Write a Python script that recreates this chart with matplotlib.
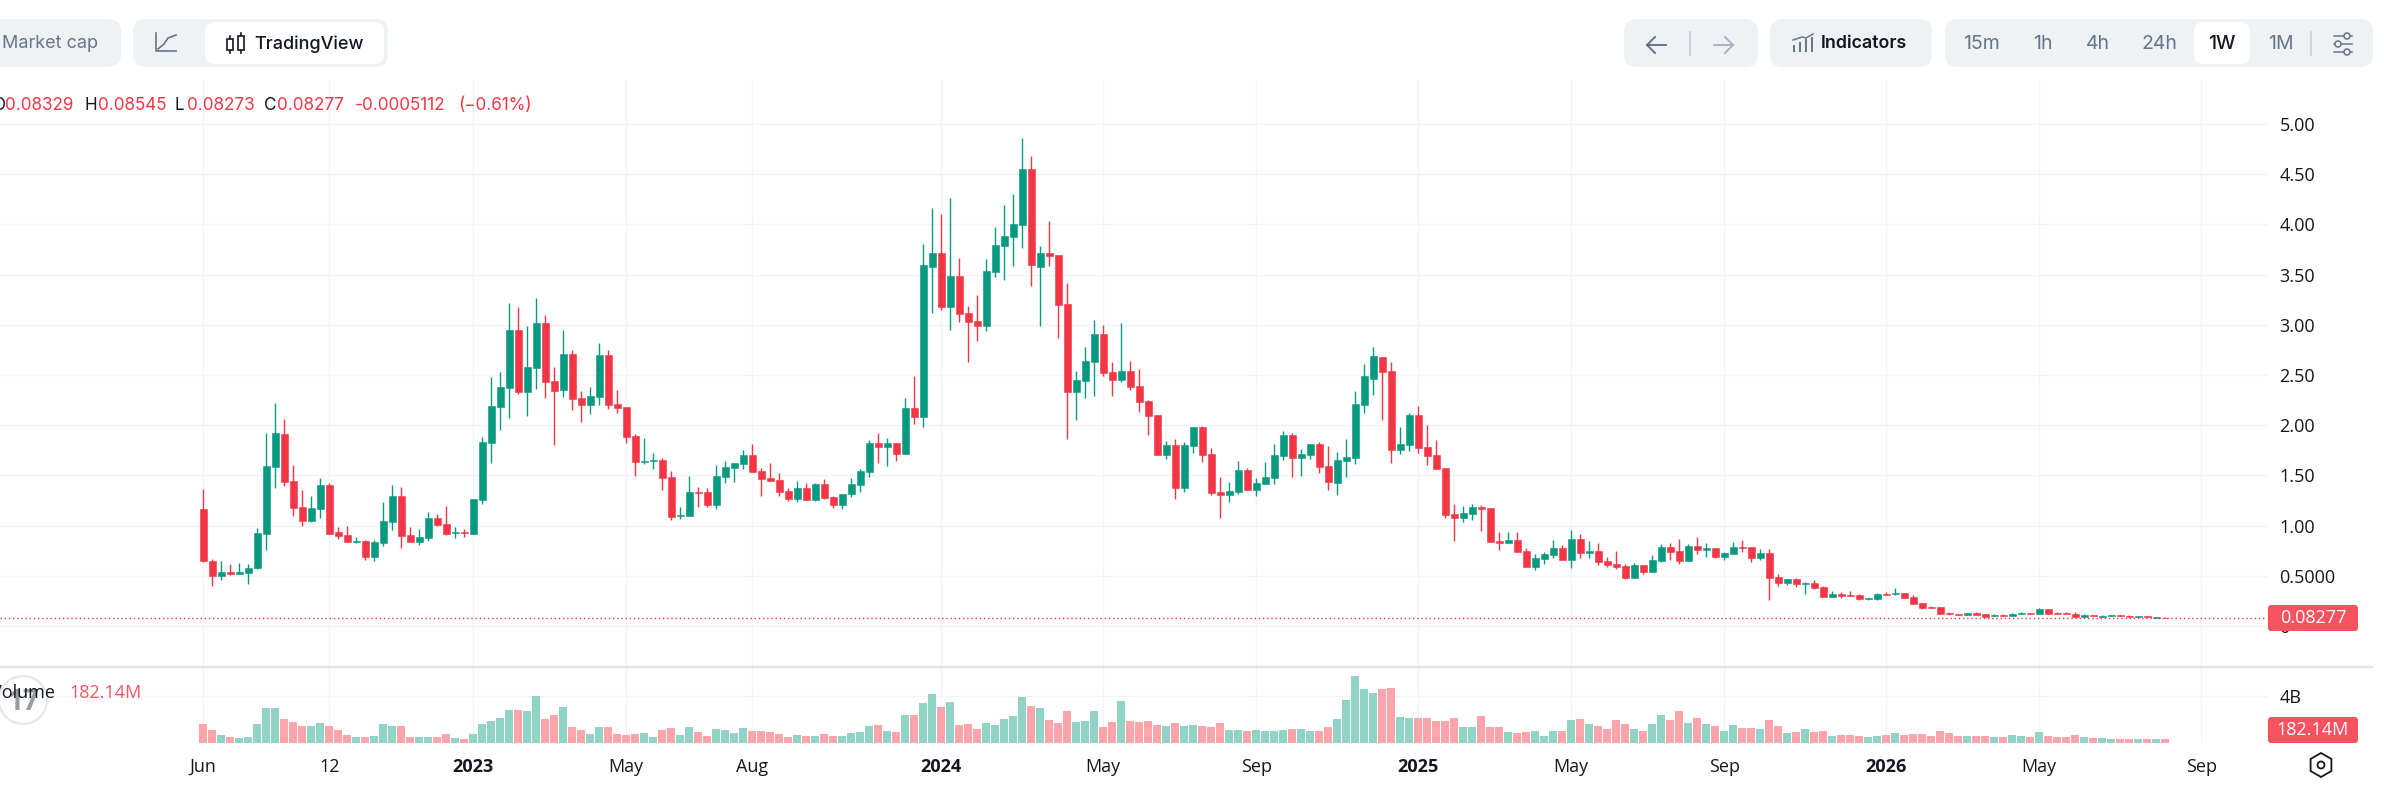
import matplotlib
matplotlib.use('Agg')
import matplotlib.pyplot as plt
from matplotlib.patches import FancyBboxPatch, Circle, RegularPolygon

# weekly OHLC
opens = [
    1.165, .647, .501, .538, .518, .528, .578, .916, 1.584, 1.912,
    1.444, 1.185, 1.046, 1.165, 1.404, .936, .906, .837, .847, .687,
    .827, 1.036, 1.295, .906, .837, .876, 1.076, 1.016, .926, .936,
    .916, 1.255, 1.823, 2.181, 2.370, 2.948, 2.331, 2.570, 3.018, 2.440,
    2.351, 2.709, 2.271, 2.201, 2.281, 2.699, 2.211, 2.181, 1.892, 1.633,
    1.643, 1.653, 1.484, 1.096, 1.096, 1.335, 1.335, 1.205, 1.484, 1.574,
    1.614, 1.703, 1.544, 1.474, 1.454, 1.345, 1.265, 1.374, 1.255, 1.414,
    1.285, 1.205, 1.315, 1.404, 1.534, 1.823, 1.783, 1.823, 1.713, 2.171,
    2.082, 3.576, 3.715, 3.177, 3.486, 3.117, 3.038, 2.988, 3.526, 3.785,
    3.874, 3.994, 4.552, 3.576, 3.715, 3.695, 3.207, 2.331, 2.440, 2.629,
    2.908, 2.530, 2.450, 2.540, 2.390, 2.241, 2.102, 1.703, 1.803, 1.374,
    1.793, 1.982, 1.713, 1.335, 1.305, 1.335, 1.554, 1.355, 1.414, 1.474,
    1.693, 1.902, 1.673, 1.703, 1.813, 1.594, 1.424, 1.643, 1.673, 2.201,
    2.460, 2.679, 2.540, 1.753, 1.803, 2.102, 1.783, 1.703, 1.574, 1.116,
    1.076, 1.116, 1.185, 1.175, .847, .827, .857, .747, .588, .667,
    .707, .777, .657, .867, .727, .747, .647, .618, .598, .478,
    .608, .538, .647, .787, .747, .647, .797, .757, .777, .687,
    .717, .787, .787, .677, .727, .488, .428, .468, .418, .428,
    .388, .289, .319, .309, .309, .269, .269, .319, .319, .329,
    .289, .229, .189, .189, .129, .120, .110, .129, .120, .100,
    .110, .100, .120, .129, .120, .169, .129, .129, .120, .090,
    .110, .090, .100, .110, .100, .090, .100, .085, .08329,
]
highs = [
    1.361, .664, .647, .618, .627, .614, .976, 1.922, 2.221, 2.062,
    1.604, 1.355, 1.295, 1.474, 1.424, .986, .996, .886, .857, .857,
    1.235, 1.404, 1.384, .986, .966, 1.135, 1.116, 1.195, .986, .966,
    1.265, 1.882, 2.480, 2.530, 3.217, 3.177, 2.988, 3.267, 3.098, 2.580,
    2.948, 2.749, 2.341, 2.380, 2.819, 2.749, 2.351, 2.181, 1.912, 1.872,
    1.723, 1.673, 1.544, 1.185, 1.494, 1.384, 1.374, 1.604, 1.643, 1.623,
    1.753, 1.813, 1.574, 1.623, 1.524, 1.374, 1.444, 1.424, 1.424, 1.464,
    1.295, 1.315, 1.474, 1.564, 1.853, 1.922, 1.872, 1.823, 2.271, 2.490,
    3.805, 4.163, 4.104, 4.263, 3.665, 3.187, 3.297, 3.655, 3.974, 4.193,
    4.303, 4.860, 4.681, 3.785, 4.034, 3.695, 3.416, 2.540, 2.779, 3.048,
    2.998, 2.629, 3.018, 2.639, 2.560, 2.251, 2.102, 1.843, 1.863, 1.833,
    1.982, 1.992, 1.773, 1.484, 1.434, 1.643, 1.574, 1.474, 1.633, 1.813,
    1.942, 1.922, 1.763, 1.813, 1.833, 1.793, 1.733, 1.863, 2.341, 2.610,
    2.779, 2.679, 2.629, 1.982, 2.121, 2.191, 2.002, 1.853, 1.574, 1.215,
    1.195, 1.215, 1.205, 1.175, .936, .936, .936, .777, .717, .737,
    .857, .807, .956, .916, .847, .827, .687, .747, .618, .627,
    .608, .707, .817, .827, .867, .817, .886, .827, .777, .737,
    .837, .857, .787, .767, .767, .518, .468, .478, .438, .458,
    .398, .349, .339, .349, .319, .279, .329, .339, .378, .329,
    .309, .229, .199, .189, .139, .120, .129, .139, .120, .116,
    .116, .129, .139, .129, .179, .169, .139, .139, .139, .120,
    .110, .110, .110, .110, .110, .100, .100, .092, .08545,
]
lows = [
    .637, .402, .461, .508, .518, .418, .568, .757, 1.374, 1.394,
    1.096, .996, 1.036, 1.076, .916, .867, .837, .827, .657, .647,
    .797, .956, .777, .837, .807, .847, .996, .906, .876, .886,
    .916, 1.215, 1.623, 1.952, 2.072, 2.311, 2.092, 2.361, 2.271, 1.803,
    2.281, 2.151, 2.032, 2.112, 2.201, 2.161, 2.121, 1.823, 1.494, 1.614,
    1.564, 1.355, 1.056, 1.066, 1.096, 1.185, 1.185, 1.165, 1.424, 1.434,
    1.564, 1.534, 1.295, 1.444, 1.295, 1.245, 1.235, 1.255, 1.245, 1.265,
    1.175, 1.165, 1.285, 1.335, 1.484, 1.623, 1.594, 1.643, 1.713, 2.012,
    1.982, 3.117, 3.147, 2.948, 3.028, 2.629, 2.839, 2.938, 3.476, 3.446,
    3.586, 3.765, 3.386, 2.988, 3.586, 2.868, 1.863, 2.052, 2.271, 2.291,
    2.490, 2.291, 2.430, 2.351, 2.131, 1.902, 1.703, 1.663, 1.265, 1.335,
    1.723, 1.633, 1.305, 1.076, 1.235, 1.315, 1.355, 1.295, 1.414, 1.414,
    1.653, 1.484, 1.494, 1.663, 1.524, 1.355, 1.305, 1.484, 1.614, 2.121,
    2.301, 2.052, 1.623, 1.713, 1.743, 1.723, 1.604, 1.564, 1.076, .847,
    1.036, 1.056, .946, .837, .757, .827, .737, .588, .558, .618,
    .677, .657, .578, .677, .677, .608, .588, .568, .468, .478,
    .518, .538, .637, .657, .618, .647, .717, .687, .677, .657,
    .717, .737, .637, .657, .259, .398, .408, .388, .319, .369,
    .289, .289, .279, .299, .259, .259, .259, .309, .309, .279,
    .219, .169, .179, .120, .110, .110, .110, .110, .090, .100,
    .100, .100, .120, .120, .120, .120, .120, .120, .090, .090,
    .100, .090, .100, .100, .090, .090, .087, .084, .08273,
]
closes = [
    .647, .501, .538, .518, .538, .574, .926, 1.594, 1.922, 1.434,
    1.175, 1.046, 1.175, 1.404, .916, .896, .837, .847, .687, .837,
    1.046, 1.295, .896, .837, .886, 1.076, 1.006, .916, .936, .926,
    1.265, 1.833, 2.191, 2.380, 2.948, 2.331, 2.580, 3.018, 2.430, 2.341,
    2.709, 2.261, 2.201, 2.291, 2.699, 2.201, 2.171, 1.882, 1.633, 1.643,
    1.653, 1.474, 1.086, 1.106, 1.335, 1.325, 1.205, 1.494, 1.584, 1.623,
    1.703, 1.534, 1.464, 1.444, 1.335, 1.265, 1.374, 1.255, 1.414, 1.275,
    1.205, 1.315, 1.414, 1.544, 1.823, 1.783, 1.823, 1.713, 2.171, 2.082,
    3.596, 3.715, 3.177, 3.486, 3.108, 3.028, 2.988, 3.536, 3.795, 3.884,
    4.004, 4.552, 3.596, 3.715, 3.685, 3.197, 2.331, 2.450, 2.639, 2.908,
    2.520, 2.450, 2.540, 2.380, 2.231, 2.092, 1.703, 1.803, 1.374, 1.803,
    1.982, 1.703, 1.325, 1.305, 1.345, 1.554, 1.355, 1.424, 1.484, 1.703,
    1.902, 1.673, 1.713, 1.813, 1.584, 1.434, 1.653, 1.683, 2.211, 2.490,
    2.689, 2.530, 1.753, 1.813, 2.102, 1.773, 1.693, 1.564, 1.106, 1.076,
    1.125, 1.185, 1.165, .837, .827, .857, .737, .588, .677, .717,
    .777, .657, .867, .727, .747, .637, .608, .588, .478, .608,
    .538, .657, .787, .737, .647, .797, .757, .777, .687, .727,
    .787, .777, .677, .727, .478, .428, .468, .418, .428, .378,
    .289, .319, .299, .299, .269, .276, .319, .309, .329, .279,
    .219, .179, .179, .120, .120, .110, .129, .110, .090, .110,
    .100, .120, .129, .120, .169, .120, .120, .120, .090, .110,
    .100, .100, .110, .100, .090, .100, .090, .088, .08277,
]
# volume in millions
volumes = [
    1630, 1114, 686, 514, 429, 514, 1630, 3000, 3000, 2057,
    1800, 1457, 1457, 1714, 1457, 1114, 686, 514, 514, 600,
    1630, 1457, 1457, 514, 514, 514, 514, 771, 429, 343,
    771, 1630, 1886, 2143, 2829, 2829, 2743, 4029, 2057, 2400,
    3086, 1371, 1114, 771, 1371, 1371, 771, 686, 771, 857,
    514, 1114, 1286, 686, 1371, 943, 600, 1200, 1114, 857,
    1286, 1029, 1029, 943, 771, 514, 686, 600, 600, 771,
    600, 600, 857, 943, 1457, 1543, 1029, 943, 2400, 2400,
    3429, 4200, 3086, 3514, 1543, 1630, 1200, 1714, 1543, 2057,
    2314, 3943, 3171, 3000, 1971, 1714, 2743, 1800, 1886, 2743,
    1371, 1800, 3600, 1886, 1800, 1886, 1543, 1457, 1714, 1457,
    1543, 1457, 1371, 1714, 1114, 1114, 1029, 1114, 1029, 1029,
    1114, 1200, 1200, 1029, 1029, 1371, 2057, 3686, 5743, 4629,
    4286, 4629, 4714, 2229, 2143, 2143, 2143, 1886, 1886, 2143,
    1371, 1371, 2314, 1371, 1371, 943, 857, 943, 1029, 600,
    1029, 1029, 1971, 2057, 1630, 1457, 1200, 1971, 1630, 1200,
    1029, 1630, 2400, 1971, 2743, 1714, 2143, 1630, 1457, 1029,
    1543, 1286, 1286, 1200, 1971, 1457, 857, 943, 1200, 943,
    1029, 600, 686, 686, 600, 514, 600, 686, 857, 686,
    771, 771, 600, 1029, 857, 600, 600, 600, 600, 514,
    514, 686, 600, 514, 943, 600, 514, 514, 686, 514,
    429, 429, 343, 343, 343, 343, 343, 343, 343,
]

price_ticks = [0, 0.5, 1, 1.5, 2, 2.5, 3, 3.5, 4, 4.5, 5]
price_labels = ['0', '0.5000', '1.00', '1.50', '2.00', '2.50', '3.00', '3.50', '4.00', '4.50', '5.00']
date_ticks = [0, 14, 30, 47, 61, 82, 100, 117, 135, 152, 169, 187, 204, 222]
date_labels = ['Jun', '12', '2023', 'May', 'Aug', '2024', 'May', 'Sep', '2025', 'May', 'Sep', '2026', 'May', 'Sep']
last_close = 0.08277

W, H = 2384, 795
UP, DOWN = '#089981', '#f23645'
UP_VOL, DOWN_VOL = '#91d4c6', '#fda5ab'
GRID = '#f0f3fa'
TEXT = '#131722'
GREY = '#677489'
BOX = '#eff2f5'
AXFONT = ['Open Sans', 'DejaVu Sans']
UIFONT = ['Inter', 'DejaVu Sans']

fig = plt.figure(figsize=(W / 100, H / 100), dpi=100, facecolor='white')


def px_axes(left, top, right, bottom):
    return fig.add_axes([left / W, 1 - bottom / H, (right - left) / W, (bottom - top) / H])


ax = px_axes(0, 80, 2267, 666)
vol = px_axes(0, 667, 2267, 743)

x = list(range(len(closes)))
xlim = (-22.59, 229.3)
up = [c >= o for o, c in zip(opens, closes)]

ax.vlines(x, lows, highs, colors=[UP if u else DOWN for u in up], linewidth=1.0, zorder=3)
ax.bar(x, [abs(c - o) for o, c in zip(opens, closes)], bottom=[min(o, c) for o, c in zip(opens, closes)],
       width=0.76, color=[UP if u else DOWN for u in up],
       edgecolor=[UP if u else DOWN for u in up], linewidth=0.4, zorder=4)
ax.axhline(last_close, color=DOWN, linestyle=(0, (1, 2)), linewidth=1.0, zorder=5)

ax.set_xlim(xlim)
ax.set_ylim(-0.398, 5.438)
ax.set_yticks(price_ticks)
ax.set_yticklabels(price_labels, family=AXFONT, fontsize=13, color=TEXT)
ax.yaxis.tick_right()
ax.tick_params(axis='y', length=0, pad=9)
ax.set_xticks(date_ticks)
ax.tick_params(axis='x', length=0, labelbottom=False)
ax.grid(True, color=GRID, linewidth=1)
ax.set_axisbelow(True)

vol.bar(x, volumes, width=0.88, color=[UP_VOL if u else DOWN_VOL for u in up], zorder=3)
vol.set_xlim(xlim)
vol.set_ylim(0, 6510)
vol.set_yticks([4000])
vol.set_yticklabels(['4B'], family=AXFONT, fontsize=13, color=TEXT)
vol.yaxis.tick_right()
vol.tick_params(axis='y', length=0, pad=9)
vol.set_xticks(date_ticks)
vol.set_xticklabels(date_labels, family=AXFONT, fontsize=13, color=TEXT)
vol.tick_params(axis='x', length=0, pad=11)
for lab in vol.get_xticklabels():
    if lab.get_text().startswith('20'):
        lab.set_fontweight('bold')
vol.grid(True, color=GRID, linewidth=1)
vol.set_axisbelow(True)

for a in (ax, vol):
    a.patch.set_alpha(0)
    for s in a.spines.values():
        s.set_visible(False)

# page furniture, in screen pixels
ui = fig.add_axes([0, 0, 1, 1], zorder=10)
ui.set_xlim(0, W)
ui.set_ylim(H, 0)
ui.axis('off')


def box(x0, y0, x1, y1, color, r=13):
    ui.add_patch(FancyBboxPatch((x0 + r, y0 + r), x1 - x0 - 2 * r, y1 - y0 - 2 * r,
                                boxstyle=f'round,pad={r},rounding_size={r}', fc=color, ec='none'))


def label(px, py, s, color=TEXT, size=14, ha='left', weight='normal', font=UIFONT):
    ui.text(px, py, s, color=color, fontsize=size, ha=ha, va='center', family=font, fontweight=weight)


def arrow(tip, tail, color):
    # shaft and head, tip on the left or right of the tail
    d = 8 if tail > tip else -8
    ui.plot([tail, tip], [45, 45], color=color, lw=1.4)
    ui.plot([tip + d, tip, tip + d], [37, 45, 53], color=color, lw=1.4)


box(-30, 19, 121, 67, BOX)
label(2, 44, 'Market cap', GREY, size=13)
box(133, 19, 388, 67, BOX)
box(205, 22, 384, 64, 'white', 10)
ui.plot([156, 156, 176], [33, 51, 51], color=GREY, lw=1.2)
ui.plot([158, 164, 168, 176], [49, 44, 38, 35], color=GREY, lw=1.2)
for cx, top, bot in [(230, 39, 50), (241, 36, 50)]:
    ui.plot([cx, cx], [top - 3, bot + 3], color=TEXT, lw=1.2)
    ui.add_patch(plt.Rectangle((cx - 3, top), 6, bot - top, fc='white', ec=TEXT, lw=1.2, zorder=3))
label(254, 44, 'TradingView', TEXT, size=13, weight='medium')

# OHLC legend row
row = 105
for px, s, c in [(-7, 'O', TEXT), (5, '0.08329', DOWN), (84, 'H', TEXT), (98, '0.08545', DOWN),
                 (175, 'L', TEXT), (187, '0.08273', DOWN), (264, 'C', TEXT), (277, '0.08277', DOWN),
                 (355, '-0.0005112', DOWN), (458, '(−0.61%)', DOWN)]:
    label(px, row, s, c, size=12.3)

# navigation
box(1624, 19, 1758, 67, BOX)
arrow(1647, 1666, GREY)
ui.plot([1690, 1690], [32, 55], color='#cdd3dd', lw=1.5)
arrow(1733, 1714, '#aab2c0')

box(1770, 19, 1932, 67, BOX)
for bx, bt in [(1794, 46), (1800, 43), (1806, 40), (1812, 38)]:
    ui.plot([bx, bx], [bt, 51], color=GREY, lw=1.4)
ui.plot([1793, 1802, 1806, 1813], [40, 37, 38, 34], color=GREY, lw=1.1)
label(1821, 44, 'Indicators', TEXT, size=12.8, weight='semibold')

box(1945, 19, 2373, 67, BOX)
box(2194, 22, 2250, 64, 'white', 10)
for cx, s in [(1981.5, '15m'), (2042.5, '1h'), (2097.5, '4h'), (2159, '24h'), (2281, '1M')]:
    label(cx, 44, s, GREY, ha='center')
label(2221.5, 44, '1W', TEXT, ha='center', weight='medium')
ui.plot([2311, 2311], [32, 55], color='#cdd3dd', lw=1.5)
for sy, kx in [(36, 2347), (44, 2338), (52, 2347)]:
    ui.plot([2334, 2352], [sy, sy], color=GREY, lw=1.1)
    ui.add_patch(Circle((kx, sy), 3, fc=BOX, ec=GREY, lw=1.1, zorder=3))

# separator between the panes
ui.plot([0, 2372], [666.7, 666.7], color='#e0e3eb', lw=1.6)

# price tags
ui.add_patch(FancyBboxPatch((2270, 607), 86, 22, boxstyle='round,pad=2,rounding_size=3', fc='#f7525f', ec='none'))
label(2313, 618, '0.08277', 'white', size=13, ha='center', font=AXFONT)
ui.add_patch(FancyBboxPatch((2270, 719), 86, 22, boxstyle='round,pad=2,rounding_size=3', fc='#f7525f', ec='none'))
label(2313, 730, '182.14M', 'white', size=13, ha='center', font=AXFONT)

# logo behind the volume legend
ui.add_patch(Circle((23, 700), 24, fc='white', ec='#e4e6ec', lw=1.5))
label(23, 702, '17', '#9a9ca3', size=20, ha='center', weight='bold', font=AXFONT)
label(-9, 693, 'Volume', TEXT, size=13, font=AXFONT)
label(69, 693, '182.14M', '#f7525f', size=13, font=AXFONT)

# settings hexagon
ui.add_patch(RegularPolygon((2321, 765), 6, radius=12, fc='none', ec=TEXT, lw=1.3))
ui.add_patch(Circle((2321, 765), 3.5, fc='none', ec=TEXT, lw=1.3))

fig.savefig('out.png', dpi=100)
